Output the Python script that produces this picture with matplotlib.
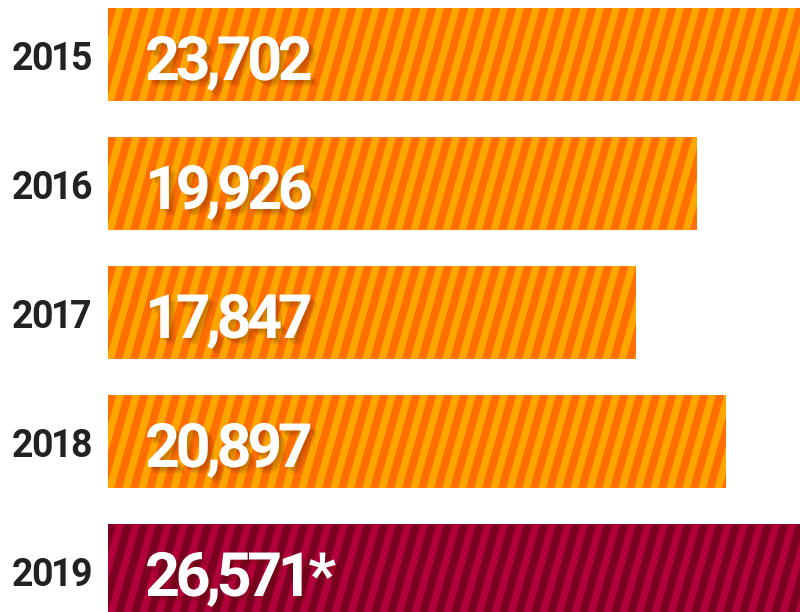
import matplotlib
matplotlib.use("Agg")
import matplotlib.pyplot as plt
import matplotlib.patheffects as pe
from matplotlib.collections import PolyCollection
from matplotlib.transforms import IdentityTransform
from matplotlib import font_manager
from matplotlib.ft2font import FT2Font
import numpy as np

years = ["2015", "2016", "2017", "2018", "2019"]
values = [23702, 19926, 17847, 20897, 26571]
labels = ["23,702", "19,926", "17,847", "20,897", "26,571*"]

orange_light, orange_dark = "#FFA500", "#FF6F00"
red_light, red_dark = "#B2003A", "#7C0022"
colors = [(orange_light, orange_dark)] * 4 + [(red_light, red_dark)]

plt.rcParams["font.family"] = ["Roboto", "DejaVu Sans"]

W, H, DPI = 800, 612, 100
fig = plt.figure(figsize=(W / DPI, H / DPI), dpi=DPI)
ax = fig.add_axes([108 / W, 0, 692 / W, 1])
ax.set_xlim(0, 23400)
ax.set_ylim(4.322, -0.4225)
ax.axis("off")

ypos = np.arange(len(years))
bars = ax.barh(ypos, values, height=0.72, color=[c[0] for c in colors],
               linewidth=0, align="center", zorder=1)

# diagonal stripes, built in pixel space and clipped to each bar
fig.canvas.draw()
period, shift = 16.0, 26.0
for bar, (light, dark) in zip(bars, colors):
    (x0, y0), (x1, y1) = ax.transData.transform(
        [(bar.get_x(), bar.get_y() + bar.get_height()),
         (bar.get_x() + bar.get_width(), bar.get_y())])
    yb, yt = min(y0, y1), max(y0, y1)
    polys = []
    k = x0 - shift - period
    while k < x1 + period:
        polys.append([(k, yb), (k + period * 0.52, yb),
                      (k + period * 0.52 + shift, yt), (k + shift, yt)])
        k += period
    pc = PolyCollection(polys, facecolors=dark, edgecolors="none", zorder=2)
    ax.add_collection(pc, autolim=False)
    pc.set_transform(IdentityTransform())
    pc.set_clip_path(bar)

# tightly tracked text: each character placed by its font advance
font_path = font_manager.findfont(
    font_manager.FontProperties(family="Roboto", weight="bold"))
ft = FT2Font(font_path)


def advances(s, size):
    ft.set_size(size, DPI)
    out = []
    for ch in s:
        g = ft.load_char(ord(ch))
        out.append(g.linearHoriAdvance / 65536.0)
    return out


def tracked_text(s, x, y_base, size, track, color, align="left", **kw):
    adv = advances(s, size)
    total = sum(adv) + track * (len(s) - 1)
    cx = x if align == "left" else x - total
    for ch, a in zip(s, adv):
        ax.text(cx, y_base, ch, transform=IdentityTransform(), fontsize=size,
                fontweight="bold", color=color, ha="left", va="baseline",
                clip_on=False, **kw)
        cx += a + track


# soft drop shadow under the value labels
shadow = [pe.SimplePatchShadow(offset=(o, -o), shadow_rgbFace="#5a1800",
                               alpha=0.12) for o in (1.5, 3, 4.5)] + [pe.Normal()]

for y, lab, yr in zip(ypos, labels, years):
    cy = ax.transData.transform((0, y))[1]
    tracked_text(lab, 145, cy - 25.5, 44, -4.5, "white",
                 path_effects=shadow, zorder=3)
    tracked_text(yr, 91.5, cy - 15.5, 27, -2.2, "#222222", align="right",
                 zorder=3)

fig.savefig("out.png", dpi=DPI)
